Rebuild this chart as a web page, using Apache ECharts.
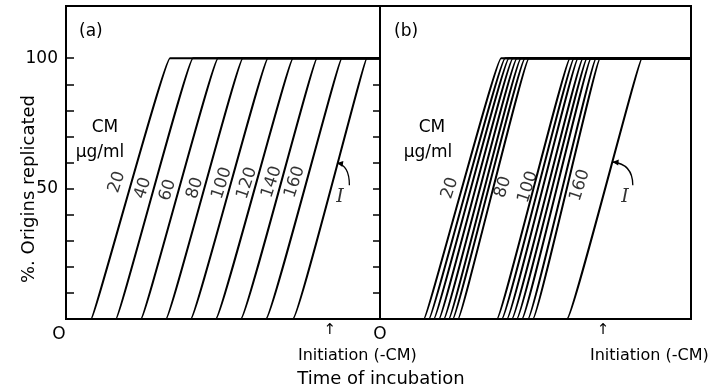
<!DOCTYPE html>
<html><head><meta charset="utf-8">
<script src="https://cdn.jsdelivr.net/npm/echarts@6/dist/echarts.min.js"></script>
<style>html,body{margin:0;padding:0;background:#fff}#c{width:713px;height:388px}</style>
</head><body><div id="c"></div>
<script>
// ---------- data ----------
// Panel (a): ramp start (leaves 0 %) and end (reaches 100 %) times; last entry = curve I (-CM)
const concA      = ['20','40','60','80','100','120','140','160'];
const startA     = [9.5, 18.9, 28.4, 37.9, 47.3, 56.8, 66.3, 75.8, 86.0];
const endA       = [39.4, 48.1, 57.6, 67.0, 76.5, 86.0, 95.1, 104.5, 114.0];
const labelXA    = [19.3, 29.2, 38.6, 48.9, 59.1, 68.6, 78.0, 86.7];
const labelYA    = [52.5, 50.2, 49.4, 50.2, 52.1, 52.1, 52.5, 52.5];
// Panel (b): two clusters of curves (20-80 and 100-160 ug/ml), then curve I
const startB     = [19.7, 22.0, 24.2, 26.5, 28.7, 30.9, 32.7, 35.0,
                    52.5, 54.7, 57.0, 59.2, 61.4, 63.7, 66.4, 68.6, 83.9];
const endB       = [54.3, 56.1, 57.8, 59.6, 61.4, 63.2, 65.0, 66.8,
                    85.2, 87.0, 88.8, 91.0, 92.8, 94.6, 96.9, 98.7, 117.5];
const concB      = ['20','80','100','160'];
const labelXB    = [31.4, 55.2, 66.4, 89.7];
const labelYB    = [50.2, 50.6, 50.6, 51.3];
// curve I annotation: label position, arrow start, arrow end (on the curve)
const iLabelA = [103.8, 46.7], iFromA = [107.4, 51.3], iToA = [102.7, 59.8];
const iLabelB = [109.9, 46.7], iFromB = [113.4, 51.3], iToB = [104.3, 60.2];
const yTicks  = [10,20,30,40,50,60,70,80,90,100];
const yLabels = [50,100];
const xMaxA = 119, xMaxB = 139.5, initiation = 100;

// ---------- chart ----------
const FONT = 'DejaVu Sans';
const chart = echarts.init(document.getElementById('c'), null, {renderer:'canvas'});

function ramp(s, e, xmax){ return [[0,0],[s,0],[e,100],[xmax,100]]; }
function lineSeries(s, e, xmax, idx){
  return {
    type:'line', xAxisIndex:idx, yAxisIndex:idx, data:ramp(s,e,xmax),
    symbol:'none', smooth:0.035, silent:true,
    lineStyle:{color:'#000', width:2}
  };
}
const series = [];
startA.forEach((s,i)=> series.push(lineSeries(s, endA[i], xMaxA, 0)));
startB.forEach((s,i)=> series.push(lineSeries(s, endB[i], xMaxB, 1)));
function labelSeries(xs, ys, texts, idx){
  return {type:'scatter', xAxisIndex:idx, yAxisIndex:idx, symbolSize:1, silent:true,
    itemStyle:{color:'rgba(0,0,0,0)'},
    data: texts.map((t,i)=>[xs[i], ys[i], t]),
    label:{show:true, position:'inside', formatter:p=>p.data[2], rotate:72,
      fontFamily:FONT, fontSize:17, color:'#000'}};
}
series.push(labelSeries(labelXA, labelYA, concA, 0));
series.push(labelSeries(labelXB, labelYB, concB, 1));
function iSeries(pos, idx){
  return {type:'scatter', xAxisIndex:idx, yAxisIndex:idx, symbolSize:1, silent:true,
    itemStyle:{color:'rgba(0,0,0,0)'}, data:[[pos[0],pos[1],'I']],
    label:{show:true, position:'inside', formatter:'I', fontFamily:'DejaVu Serif',
      fontStyle:'italic', fontSize:19, color:'#000'}};
}
series.push(iSeries(iLabelA,0));
series.push(iSeries(iLabelB,1));

const gridCommon = {top:6, height:313, show:true, borderColor:'#000', borderWidth:2, backgroundColor:'#fff'};
const xCommon = {type:'value', min:0, axisLine:{show:false}, splitLine:{show:false},
  axisTick:{show:false}};
const yCommon = {type:'value', min:0, max:120, interval:10, splitLine:{show:false}, axisLine:{show:false}};

const baseGraphic = [
  {type:'text', x:29, y:189, rotation:Math.PI/2, style:{text:'%. Origins replicated', fontFamily:FONT, fontSize:18, fill:'#000', align:'center', verticalAlign:'middle'}},
  {type:'text', x:79, y:32, style:{text:'(a)', fontFamily:FONT, fontSize:17, fill:'#000', verticalAlign:'middle'}},
  {type:'text', x:394, y:32, style:{text:'(b)', fontFamily:FONT, fontSize:17, fill:'#000', verticalAlign:'middle'}},
  {type:'text', x:105, y:128, style:{text:'CM', fontFamily:FONT, fontSize:17, fill:'#000', align:'center', verticalAlign:'middle'}},
  {type:'text', x:100, y:153, style:{text:'μg/ml', fontFamily:FONT, fontSize:17, fill:'#000', align:'center', verticalAlign:'middle'}},
  {type:'text', x:432, y:128, style:{text:'CM', fontFamily:FONT, fontSize:17, fill:'#000', align:'center', verticalAlign:'middle'}},
  {type:'text', x:428, y:153, style:{text:'μg/ml', fontFamily:FONT, fontSize:17, fill:'#000', align:'center', verticalAlign:'middle'}},
  {type:'text', x:298, y:356, style:{text:'Initiation (-CM)', fontFamily:FONT, fontSize:16, fill:'#000', verticalAlign:'middle'}},
  {type:'text', x:590, y:356, style:{text:'Initiation (-CM)', fontFamily:FONT, fontSize:16, fill:'#000', verticalAlign:'middle'}},
  {type:'text', x:381, y:379, style:{text:'Time of incubation', fontFamily:FONT, fontSize:18, fill:'#000', align:'center', verticalAlign:'middle'}}
];

chart.setOption({
  animation:false,
  backgroundColor:'#fff',
  grid:[Object.assign({left:66, width:314}, gridCommon), Object.assign({left:380, width:311}, gridCommon)],
  xAxis:[
    Object.assign({gridIndex:0, max:xMaxA,
      axisLabel:{customValues:[0, initiation], margin:4, color:'#000',
        formatter:v => v===0 ? '{o|O}' : '{arr|↑}',
        rich:{o:{fontFamily:FONT, fontSize:17, padding:[3,14,0,0], color:'#000'},
              arr:{fontFamily:FONT, fontSize:15, color:'#000'}}}}, xCommon),
    Object.assign({gridIndex:1, max:xMaxB,
      axisLabel:{customValues:[0, initiation], margin:4, color:'#000',
        formatter:v => v===0 ? '{o|O}' : '{arr|↑}',
        rich:{o:{fontFamily:FONT, fontSize:17, padding:[3,0,0,0], color:'#000'},
              arr:{fontFamily:FONT, fontSize:15, color:'#000'}}}}, xCommon)
  ],
  yAxis:[
    Object.assign({gridIndex:0, position:'left',
      axisTick:{show:true, inside:true, length:8, customValues:yTicks, lineStyle:{color:'#000', width:1.5}},
      axisLabel:{customValues:yLabels, margin:8, fontFamily:FONT, fontSize:17, color:'#000'}}, yCommon),
    Object.assign({gridIndex:1, position:'right',
      axisTick:{show:true, inside:true, length:7, customValues:yTicks.slice(0,9), lineStyle:{color:'#000', width:1.5}},
      axisLabel:{show:false}}, yCommon)
  ],
  graphic: baseGraphic,
  series: series
});

// curved arrows pointing from the "I" label to curve I, placed through the axes' own scales
function arrowGraphics(from, to, gridIndex){
  const p0 = chart.convertToPixel({gridIndex}, from);
  const p1 = chart.convertToPixel({gridIndex}, to);
  const cp = [p0[0], p1[1] + 2];
  const dx = p1[0]-cp[0], dy = p1[1]-cp[1];
  const L = Math.hypot(dx,dy) || 1, ux = dx/L, uy = dy/L;
  const hl = 6, hw = 3;
  const bx = p1[0]-ux*hl, by = p1[1]-uy*hl;
  return [
    {type:'bezierCurve', shape:{x1:p0[0], y1:p0[1], x2:p1[0], y2:p1[1], cpx1:cp[0], cpy1:cp[1]},
     style:{stroke:'#000', lineWidth:1.3, fill:null}, silent:true},
    {type:'polygon', shape:{points:[[p1[0],p1[1]],[bx-uy*hw, by+ux*hw],[bx+uy*hw, by-ux*hw]]},
     style:{fill:'#000'}, silent:true}
  ];
}
chart.setOption({graphic: baseGraphic.concat(arrowGraphics(iFromA, iToA, 0), arrowGraphics(iFromB, iToB, 1))});
</script>
</body></html>
